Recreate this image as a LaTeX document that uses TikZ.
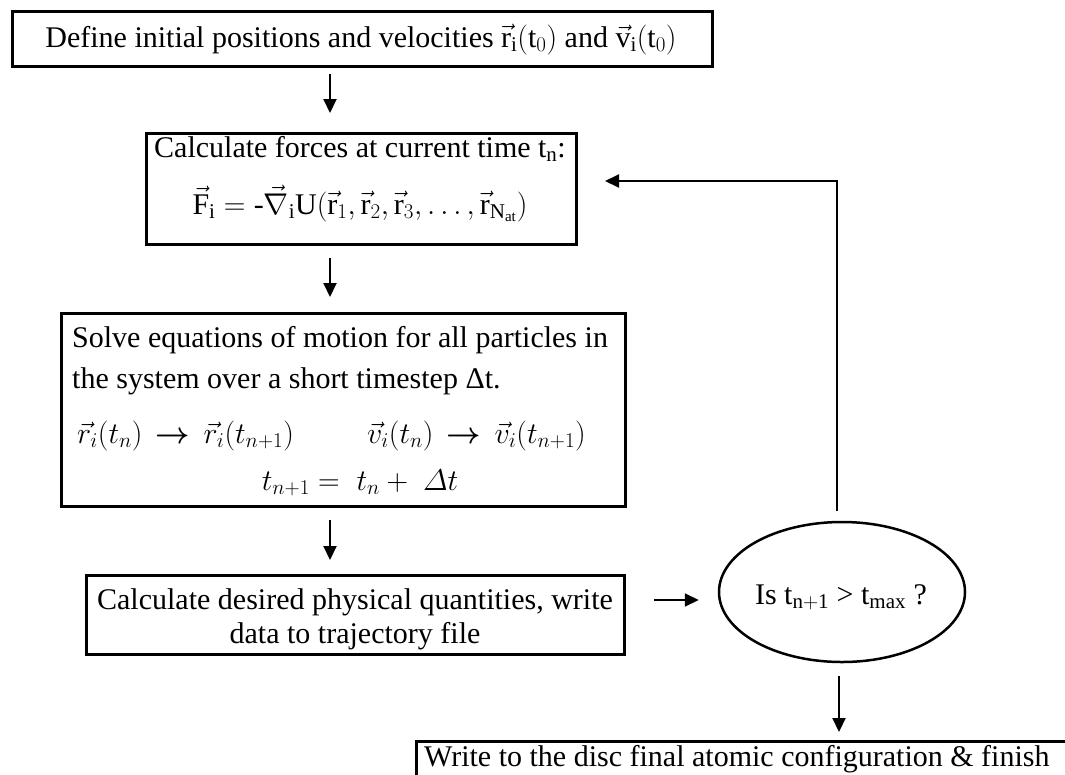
\documentclass[tikz,border=0pt]{standalone}
\usepackage{fix-cm}
\usepackage{amsmath,bm}
\usepackage{fontspec}
\setmainfont{Liberation Serif}
\usetikzlibrary{arrows.meta,shapes.geometric,calc}
\begin{document}
\begin{tikzpicture}[x=1pt,y=-1pt,
  box/.style={draw,line width=3pt,inner sep=0pt},
  txt/.style={inner sep=0pt,font=\fontsize{30}{36}\selectfont},
  arr/.style={line width=2pt,-{Triangle[length=14pt,width=13pt]}}]
\useasboundingbox (0,0) rectangle (1065,774);
\clip (0,0) rectangle (1065,774);
% boxes
\node[box,anchor=north west,minimum width=700pt,minimum height=55pt] (b1) at (11,10) {};
\node[box,anchor=north west,minimum width=430pt,minimum height=111pt] (b2) at (145,132) {};
\node[box,anchor=north west,minimum width=564pt,minimum height=193pt] (b3) at (60,312) {};
\node[box,anchor=north west,minimum width=538pt,minimum height=79pt] (b4) at (85,574) {};
\node[draw,ellipse,line width=2.5pt,minimum width=246pt,minimum height=140pt] (q) at (842,592) {};
\node[box,anchor=north west,minimum width=700pt,minimum height=100pt] (b5) at (415,740) {};
% texts
\node[txt,anchor=base] (t1) at (361,47) {Define initial positions and velocities $\vec{\mathrm{r}}_{\mathrm{i}}(\mathrm{t}_{0})$ and $\vec{\mathrm{v}}_{\mathrm{i}}(\mathrm{t}_{0})$};
\node[txt,anchor=base] (t2a) at (360,157) {Calculate forces at current time $\mathrm{t}_{\mathrm{n}}$:};
\node[txt,anchor=base] (t2b) at (360,214) {$\vec{\mathrm{F}}_{\mathrm{i}} = \mbox{-}\vec{\nabla}_{\mathrm{i}}\mathrm{U}(\vec{\mathrm{r}}_{1},\vec{\mathrm{r}}_{2},\vec{\mathrm{r}}_{3},\dots,\vec{\mathrm{r}}_{\mathrm{N_{at}}})$};
\node[txt,anchor=base west] (t3a) at (72,347) {Solve equations of motion for all particles in};
\node[txt,anchor=base west] (t3b) at (72,388) {the system over a short timestep Δt.};
\node[txt,anchor=base west] (t3c) at (77,443) {$\vec{r}_{i}(t_{n})\,\bm{\rightarrow}\,\vec{r}_{i}(t_{n+1})$};
\node[txt,anchor=base west] (t3d) at (367,443) {$\vec{v}_{i}(t_{n})\,\bm{\rightarrow}\,\vec{v}_{i}(t_{n+1})$};
\node[txt,anchor=base] (t3e) at (360,490) {$t_{n+1} =\; t_{n} +\; \varDelta t$};
\node[txt,anchor=base] (t4a) at (355,609) {Calculate desired physical quantities, write};
\node[txt,anchor=base] (t4b) at (355,643) {data to trajectory file};
\node[txt,anchor=base] (tq) at (841,604) {Is $\mathrm{t}_{\mathrm{n+1}}$ > $\mathrm{t}_{\mathrm{max}}$ ?};
\node[txt,anchor=base west] (t5) at (424,766) {Write to the disc final atomic configuration \& finish};
% connectors
\coordinate (ax) at (330,0);
\draw[arr] ($(b1.south -| ax)+(0,6)$) -- ($(b2.north -| ax)+(0,-19)$);
\draw[arr] ($(b2.south -| ax)+(0,12)$) -- ($(b3.north -| ax)+(0,-15)$);
\draw[arr] ($(b3.south -| ax)+(0,12)$) -- ($(b4.north -| ax)+(0,-14)$);
\coordinate (ay) at (0,600);
\draw[arr] ($(b4.east |- ay)+(28,0)$) -- ($(q.west |- ay)+(-19,0)$);
\coordinate (lp) at (837,181);
\draw[arr,line join=miter] ($(q.north)+(-5,-10)$) -- (lp) -- ($(b2.east |- lp)+(27,0)$);
\draw[arr] ($(q.south)+(-3,13)$) -- ($(b5.north -| q.south)+(-3,-8)$);
\end{tikzpicture}
\end{document}
